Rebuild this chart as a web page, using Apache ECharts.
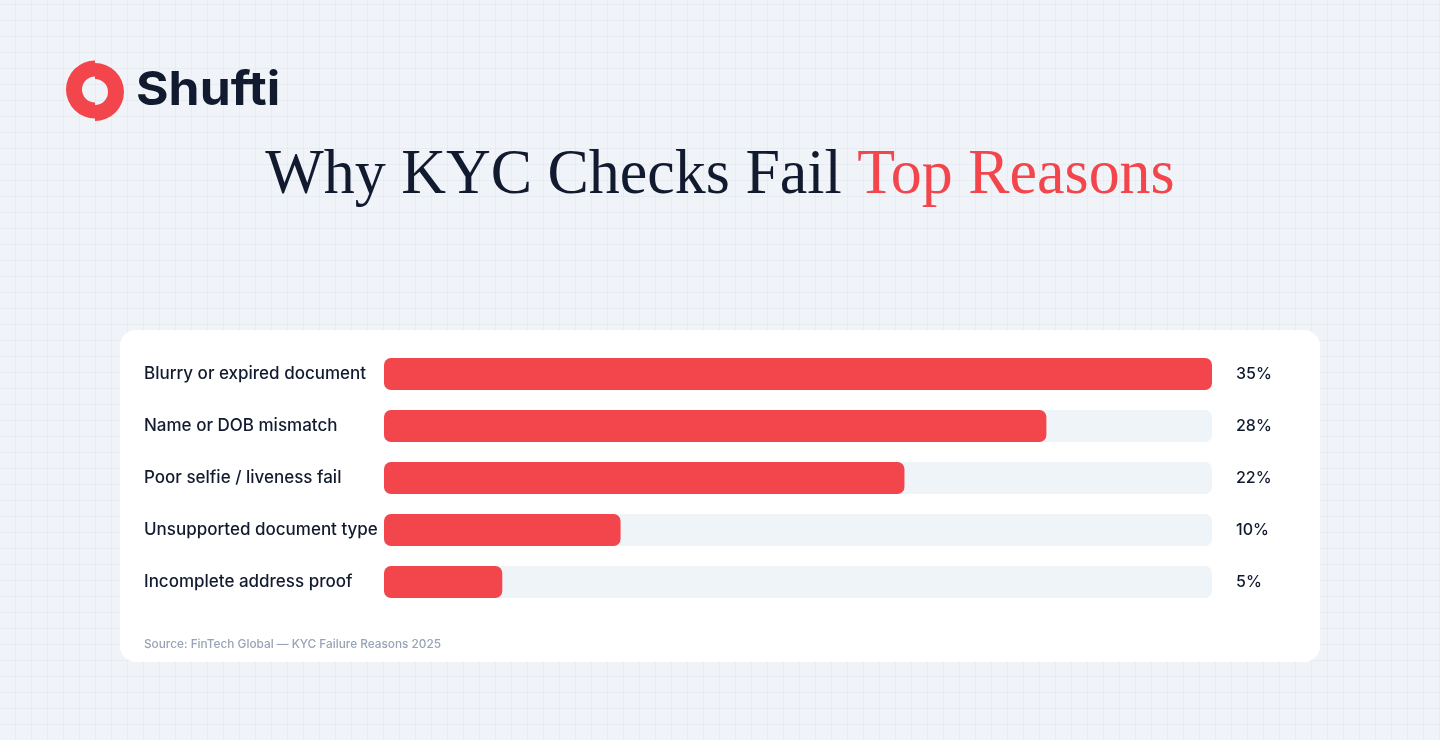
<!DOCTYPE html>
<html><head><meta charset="utf-8">
<script src="https://cdn.jsdelivr.net/npm/echarts@6/dist/echarts.min.js"></script>
<style>
html,body{margin:0;padding:0;}
body{background:#f0f4f9;}
#c{width:1440px;height:740px;
background-color:#f0f4f9;
background-image:repeating-linear-gradient(90deg, transparent 0 15px, rgba(220,227,236,0.45) 15px 16px),
repeating-linear-gradient(0deg, transparent 0 15px, rgba(220,227,236,0.45) 15px 16px);}
</style></head>
<body><div id="c"></div>
<script>
const categories = ['Blurry or expired document','Name or DOB mismatch','Poor selfie / liveness fail','Unsupported document type','Incomplete address proof'];
const values = [35, 28, 22, 10, 5];
const valueLabels = ['35%','28%','22%','10%','5%'];
const titleDark = 'Why KYC Checks Fail ';
const titleRed = 'Top Reasons';
const sourceText = 'Source: FinTech Global — KYC Failure Reasons 2025';

const RED = '#f2454c', DARK = '#111a2e';
const chart = echarts.init(document.getElementById('c'), null, {renderer:'canvas'});
chart.setOption({
  backgroundColor: 'transparent',
  animation: false,
  graphic: [
    {type:'rect', z:0, shape:{x:120,y:330,width:1200,height:332,r:16}, style:{fill:'#ffffff'}},
    {type:'sector', shape:{cx:95,cy:89.5,r:29,r0:13,startAngle:Math.PI/2,endAngle:Math.PI*1.5}, style:{fill:RED}},
    {type:'sector', shape:{cx:95,cy:92,r:29,r0:13,startAngle:-Math.PI/2,endAngle:Math.PI/2}, style:{fill:RED}},
    {type:'text', x:136, y:91, scaleX:1.06, style:{x:0,y:0,text:'Shufti',fill:DARK,font:'bold 47px Inter',textVerticalAlign:'middle'}},
    {type:'text', x:720, y:176, scaleX:0.968, style:{x:0,y:0,text:'{a|'+titleDark+'}{b|'+titleRed+'}',
      textAlign:'center',textVerticalAlign:'middle',
      rich:{a:{fill:DARK,font:'64px "Liberation Serif"'},b:{fill:RED,font:'64px "Liberation Serif"'}}}},
    {type:'text', style:{x:144,y:644,text:sourceText,fill:'#97a3b6',font:'500 11.8px Inter',textVerticalAlign:'middle'}}
  ],
  grid:{left:384,width:828,top:348,height:260},
  xAxis:{type:'value',min:0,max:35,show:false},
  yAxis:[
    {type:'category',data:categories,inverse:true,axisLine:{show:false},axisTick:{show:false},
     axisLabel:{align:'left',margin:240,color:DARK,fontFamily:'Inter',fontSize:17,fontWeight:500}},
    {type:'category',data:valueLabels,inverse:true,position:'right',axisLine:{show:false},axisTick:{show:false},
     axisLabel:{align:'left',margin:24,color:DARK,fontFamily:'Inter',fontSize:16,fontWeight:500}}
  ],
  series:[{type:'bar',data:values,barWidth:32,yAxisIndex:0,
    itemStyle:{color:RED,borderRadius:7},
    showBackground:true,backgroundStyle:{color:'#eff4f9',borderRadius:7}}]
});
</script></body></html>
